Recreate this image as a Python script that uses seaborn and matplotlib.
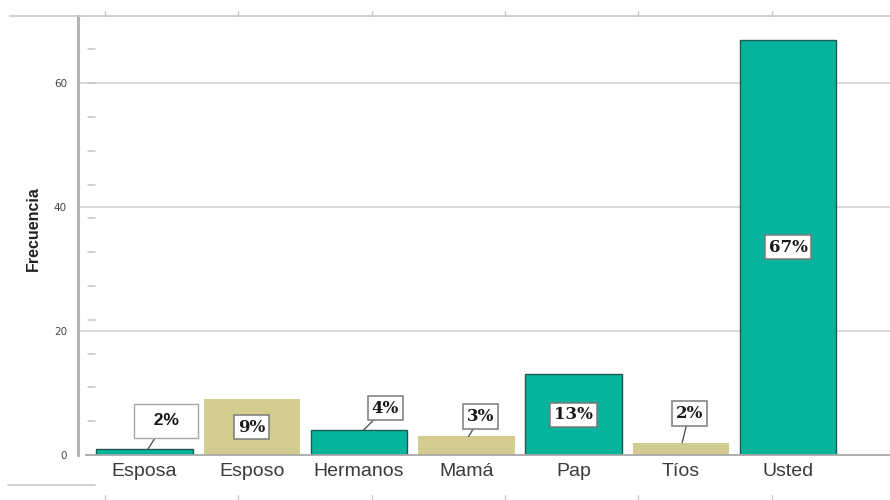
import matplotlib
matplotlib.use("Agg")
import matplotlib.pyplot as plt
import matplotlib.transforms as mtransforms
import seaborn as sns
import pandas as pd
import numpy as np
from matplotlib.lines import Line2D

# datos
categorias = ["Esposa", "Esposo", "Hermanos", "Mamá", "Pap", "Tíos", "Usted"]
frecuencias = [1, 9, 4, 3, 13, 2, 67]
porcentajes = ["2%", "9%", "4%", "3%", "13%", "2%", "67%"]
colores = ["#06B39C", "#D2CC8F", "#06B39C", "#D2CC8F", "#06B39C", "#D2CC8F", "#06B39C"]

sns.set_style("white")
df = pd.DataFrame({"cat": categorias, "frec": frecuencias})

fig = plt.figure(figsize=(8.9, 5), dpi=100)
ax = fig.add_axes([78 / 890, 45 / 500, 1 - 78 / 890, (455 - 16) / 500])

# rejilla
for yv in [20, 40, 60]:
    ax.axhline(yv, color="#cfcfcf", lw=1.1, zorder=0)

sns.barplot(data=df, x="cat", y="frec", hue="cat", palette=colores, legend=False,
            width=0.9, saturation=1, ax=ax, zorder=2)
for p, c in zip(ax.patches, colores):
    if c == "#06B39C":
        p.set_edgecolor("#1f5a50")
        p.set_linewidth(1.0)
    else:
        p.set_linewidth(0)

ax.set_xlim(-0.62, 6.95)
ax.set_ylim(0, 70.8)

# etiquetas de porcentaje: (dx, dy en pixeles, dentro de la barra?)
desplaz = [(18, 28, False), (0, 0, True), (22, 22, False), (12, 20, False),
           (0, 0, True), (7, 29, False), (0, 0, True)]
for i, (v, txt, (dx, dy, dentro)) in enumerate(zip(frecuencias, porcentajes, desplaz)):
    bbox = dict(boxstyle="square,pad=0.22", fc="white", ec="#7a7a7a", lw=1.1)
    fuente = dict(fontsize=12, fontweight="bold", family="DejaVu Serif", color="#1a1a1a")
    if dentro:
        ax.annotate(txt, xy=(i, v / 2), ha="center", va="center", bbox=bbox,
                    zorder=5, **fuente)
    else:
        if i == 0:
            bbox = dict(boxstyle="square,pad=0.55", fc="white", ec="#a5a5a5", lw=1.0)
            fuente = dict(fontsize=12.5, fontweight="bold", family="Liberation Sans",
                          color="#1a1a1a")
            txt_show = "  " + txt + "  "
        else:
            txt_show = txt
        ax.annotate(txt_show, xy=(i + dx / 107 * 0.2, v), xytext=(dx, dy),
                    textcoords="offset pixels", ha="center", va="center",
                    bbox=bbox, zorder=5,
                    arrowprops=dict(arrowstyle="-", color="#555555", lw=1.0,
                                    shrinkA=0, shrinkB=0), **fuente)

# ejes
sns.despine(ax=ax, top=True, right=True)
ax.spines["left"].set_color("#b5b5b5")
ax.spines["left"].set_linewidth(2.2)
ax.spines["bottom"].set_color("#a8a8a8")
ax.spines["bottom"].set_linewidth(1.3)
ax.spines["bottom"].set_bounds(-0.55, 6.95)

ax.set_yticks([0, 20, 40, 60])
ax.tick_params(axis="y", which="major", length=9, direction="in", color="#c4c4c4",
               width=1.2, labelsize=7.5, labelcolor="#444444", pad=8)
ax.tick_params(axis="x", length=0, labelsize=14, labelcolor="#3a3a3a", pad=6)
for lab in ax.get_xticklabels():
    lab.set_family("Liberation Sans")
ax.set_xlabel("")
ax.set_ylabel("Frecuencia", fontsize=11.5, fontweight="bold", color="#222222",
              family="Liberation Sans")
ax.yaxis.set_label_coords(-0.046, 0.515)

# marcas menores separadas del eje
trans = mtransforms.blended_transform_factory(ax.transAxes, ax.transData)
for yv in np.arange(5.45, 70, 5.45):
    ax.add_line(Line2D([10 / 812, 17 / 812], [yv, yv], transform=trans,
                       color="#c4c4c4", lw=1.1, clip_on=False))

# marco de la vista
fig.add_artist(Line2D([10 / 890, 1], [484 / 500, 484 / 500], color="#c8c8c8", lw=1.2))
fig.add_artist(Line2D([8 / 890, 95 / 890], [15 / 500, 15 / 500], color="#c8c8c8", lw=1.2))
for xp in [105, 238, 372, 505, 638, 772]:
    fig.add_artist(Line2D([xp / 890, xp / 890], [484 / 500, 489 / 500], color="#c8c8c8", lw=1))
    fig.add_artist(Line2D([xp / 890, xp / 890], [0, 5 / 500], color="#c8c8c8", lw=1))

fig.savefig("out.png", dpi=100)
